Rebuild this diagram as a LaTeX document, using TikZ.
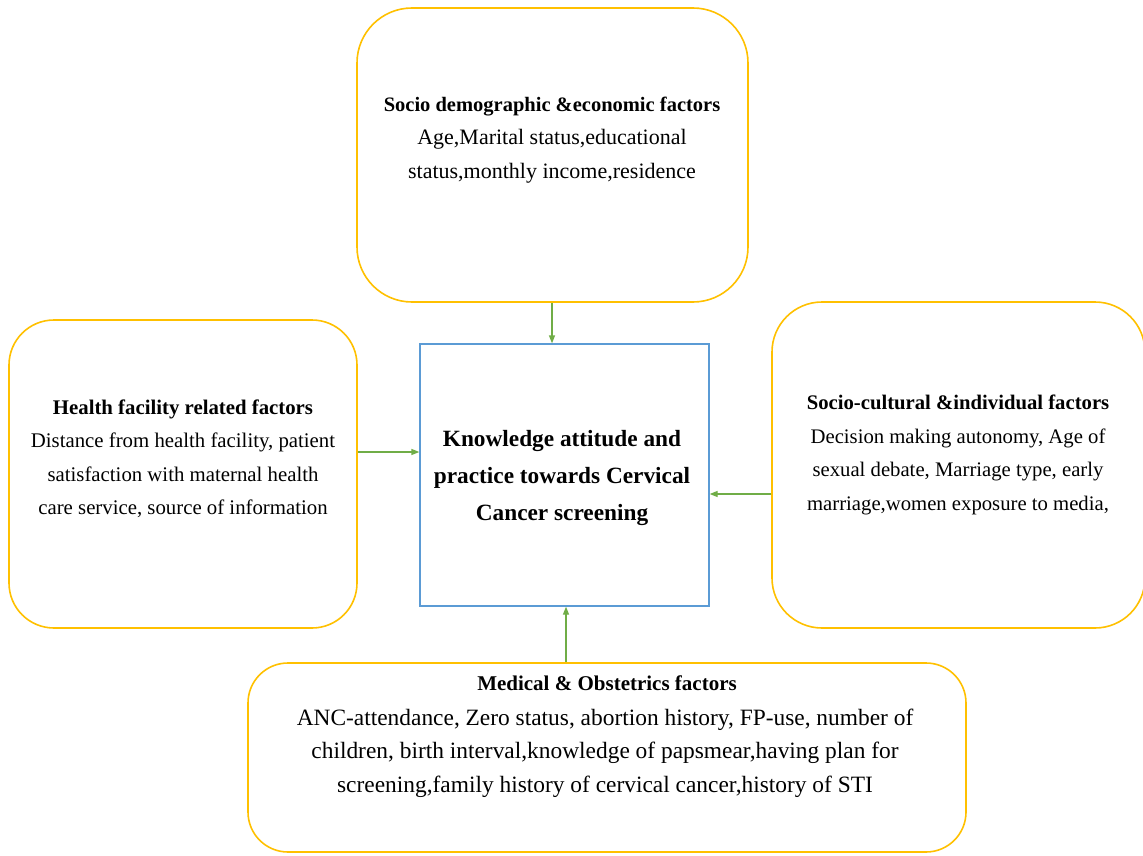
\documentclass[tikz,border=0pt]{standalone}
\usepackage{fontspec}
\setmainfont{Liberation Serif}
\usetikzlibrary{arrows.meta}
\definecolor{boxgold}{HTML}{FFC000}
\definecolor{boxblue}{HTML}{5B9BD5}
\definecolor{arrowgreen}{HTML}{70AD47}
\tikzset{
  factorbox/.style={draw=boxgold, line width=1.6pt, rounded corners=#1, inner sep=0pt},
  factorbox/.default=50pt,
  mainbox/.style={draw=boxblue, line width=1.3pt, inner sep=0pt},
  factortext/.style={align=center, font=\fontsize{#1}{33.5}\selectfont, inner sep=0pt},
  factortext/.default=21,
  link/.style={draw=arrowgreen, line width=1.3pt, -{Triangle[length=8pt,width=6pt]}}
}
\begin{document}
\begin{tikzpicture}[x=1pt,y=-1pt]
%% the page, kept to the size of the reference
\useasboundingbox (0,0) rectangle (1143,856);
%% the four groups of factors and the outcome in the middle
\node[factorbox=55pt, minimum width=391pt, minimum height=294pt] (socio) at (552.5,155) {};
\node[factorbox=45pt, minimum width=348pt, minimum height=308pt] (health) at (183,474) {};
\node[factorbox=50pt, minimum width=373pt, minimum height=326pt] (culture) at (958.5,465) {};
\node[factorbox=40pt, minimum width=718pt, minimum height=189pt] (medical) at (607,757.5) {};
\node[mainbox, minimum width=289pt, minimum height=262pt] (kap) at (564.5,475) {};
%% texts
\node[factortext=22] (sociotext) at (552,140) {{\fontsize{20.5}{33.5}\selectfont\bfseries Socio demographic \&economic factors}\\
  Age,Marital status,educational\\ status,monthly income,residence};
\node[factortext=20.8] (healthtext) at (183,459) {{\bfseries Health facility related factors}\\
  Distance from health facility, patient\\ satisfaction with maternal health\\ care service, source of information};
\node[factortext=20.7] (culturetext) at (958,455) {{\bfseries Socio-cultural \&individual factors}\\
  Decision making autonomy, Age of\\ sexual debate, Marriage type, early\\ marriage,women exposure to media,};
\node[factortext, font=\fontsize{23.3}{37}\selectfont\bfseries] (kaptext) at (562,478) {Knowledge attitude and\\
  practice towards Cervical\\ Cancer screening};
\node[factortext=21] (medicaltitle) at (607,683) {\bfseries Medical \& Obstetrics factors};
\node[factortext=23.4] (medicaltext) at (605,753) {ANC-attendance, Zero status, abortion history, FP-use, number of\\
  children, birth interval,knowledge of papsmear,having plan for\\ screening,family history of cervical cancer,history of STI};
%% arrows into the middle box
\draw[link] (socio.south -| 552,0) -- (kap.north -| 552,0);
\draw[link] (health.east |- 0,452) -- (kap.west |- 0,452);
\draw[link] (culture.west |- 0,494) -- (kap.east |- 0,494);
\draw[link] (medical.north -| 566,0) -- (kap.south -| 566,0);
\end{tikzpicture}
\end{document}
